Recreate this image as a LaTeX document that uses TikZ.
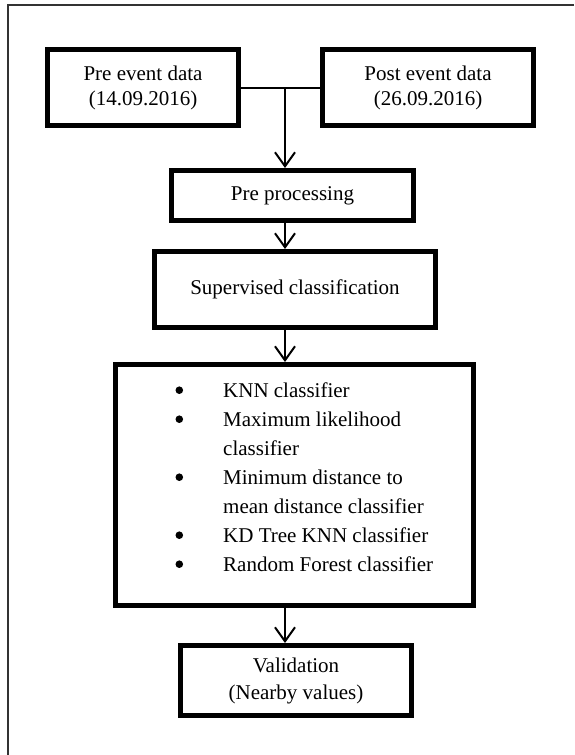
\documentclass[tikz,border=0pt]{standalone}
\usepackage{fontspec}
\setmainfont{Liberation Serif}
\usetikzlibrary{arrows.meta,calc}
\newcommand{\indt}{\hspace*{47.5pt}}
\begin{document}
\begin{tikzpicture}[x=1pt,y=-1pt,
  stage/.style={draw, line width=5pt, inner sep=0pt, align=center,
    font=\fontsize{21}{25}\selectfont},
  link/.style={line width=2pt},
  flow/.style={line width=2pt, -{Straight Barb[length=14pt,width=20pt]}},
  dot/.style={fill=black},
  frame/.style={line width=2pt, draw=black!80}]
\useasboundingbox (0,0) rectangle (574,755);

% page frame (top and left edges)
\coordinate (fr) at (574,5);
\coordinate (fc) at (8,5);
\coordinate (fb) at (8,755);
\draw[frame] (fr) -- (fc) -- (fb);

% stages
\node[stage, minimum width=191pt, minimum height=76pt] (pre) at (143,87.5)
  {Pre event data\\(14.09.2016)};
\node[stage, minimum width=211pt, minimum height=76pt] (post) at (428,87.5)
  {Post event data\\(26.09.2016)};
\node[stage, minimum width=242pt, minimum height=50pt] (prep) at (292.5,195.5)
  {Pre processing};
\node[stage, minimum width=281pt, minimum height=76pt] (sup) at (295,289.5)
  {Supervised classification};
\node[stage, minimum width=358pt, minimum height=241pt] (classes) at (294.5,485) {};
\node[anchor=north west, inner sep=0pt, font=\fontsize{21}{29}\selectfont] (items)
  at (175.5,376.7)
  {\begin{tabular}{@{}l@{}}
   \indt KNN classifier\\
   \indt Maximum likelihood\\
   \indt classifier\\
   \indt Minimum distance to\\
   \indt mean distance classifier\\
   \indt KD Tree KNN classifier\\
   \indt Random Forest classifier
   \end{tabular}};
% list bullets (lines 1, 2, 4, 6 and 7 of the list)
\foreach \k in {0,1,3,5,6}
  \fill[dot] ($(items.north west)+(3.8,13.5+29*\k)$) circle (3.8pt);
\node[stage, minimum width=231pt, minimum height=70pt,
  font=\fontsize{21}{27}\selectfont] (valid) at (296,680.5)
  {Validation\\(Nearby values)};

% connectors
\coordinate (j) at (285,87.5);
\draw[link] (pre.east) -- (post.west);
\draw[flow] (j) -- (prep.north -| j);
\draw[flow] (prep.south -| j) -- (sup.north -| j);
\draw[flow] (sup.south -| j) -- (classes.north -| j);
\draw[flow] (classes.south -| j) -- (valid.north -| j);
\end{tikzpicture}
\end{document}
